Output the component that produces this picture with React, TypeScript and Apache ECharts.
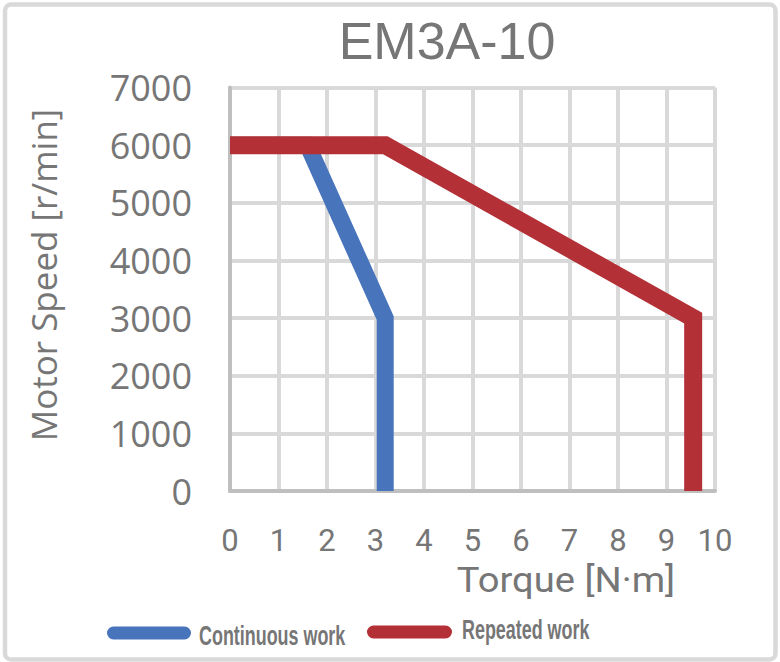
import React, { useEffect, useRef } from "react";
import * as echarts from "echarts";

const chartTitle = "EM3A-10";
const xAxisTitle = "Torque [N·m]";
const yAxisTitle = "Motor Speed [r/min]";
const seriesNames = ["Continuous work", "Repeated work"];
const seriesColors = ["#4874BB", "#B33037"];
const continuousTorque = [0, 1.6, 3.2, 3.2];
const continuousSpeed = [6000, 6000, 3000, 0];
const repeatedTorque = [0, 3.2, 9.55, 9.55];
const repeatedSpeed = [6000, 6000, 3000, 0];
const xMin = 0;
const xMax = 10;
const xStep = 1;
const yMin = 0;
const yMax = 7000;
const yStep = 1000;

const textGray = "#767676";

function pairs(xs: number[], ys: number[]) {
  return xs.map((x, i) => [x, ys[i]]);
}

export default function App() {
  const ref = useRef<HTMLDivElement>(null);
  useEffect(() => {
    if (!ref.current) return;
    const chart = echarts.init(ref.current, null, { renderer: "svg" });
    const labelFont = "'Open Sans', 'Noto Sans', sans-serif";
    const xFont = "Roboto, 'Open Sans', sans-serif";
    chart.setOption({
      animation: false,
      backgroundColor: "transparent",
      grid: { left: 230, right: 65, top: 87.5, bottom: 171, containLabel: false },
      xAxis: {
        type: "value",
        min: xMin,
        max: xMax,
        interval: xStep,
        axisLine: { show: true, onZero: false, lineStyle: { color: "#BFBFBF", width: 4 } },
        axisTick: { show: false },
        axisLabel: {
          color: textGray,
          fontSize: 31,
          lineHeight: 30,
          fontFamily: xFont,
          margin: 34,
          formatter: (v: number) => String(v),
        },
        splitLine: { show: true, lineStyle: { color: "#D9D9D9", width: 4 } },
      },
      yAxis: {
        type: "value",
        min: yMin,
        max: yMax,
        interval: yStep,
        axisLine: { show: true, onZero: false, lineStyle: { color: "#BFBFBF", width: 4 } },
        axisTick: { show: false },
        axisLabel: {
          color: textGray,
          fontSize: 36,
          fontFamily: labelFont,
          margin: 38,
          formatter: (v: number) => String(v),
        },
        splitLine: { show: true, lineStyle: { color: "#D9D9D9", width: 4 } },
      },
      series: [
        {
          name: seriesNames[0],
          type: "line",
          data: pairs(continuousTorque, continuousSpeed),
          showSymbol: false,
          symbol: "none",
          lineStyle: { color: seriesColors[0], width: 17, join: "miter", cap: "butt" },
          itemStyle: { color: seriesColors[0] },
          z: 3,
        },
        {
          name: seriesNames[1],
          type: "line",
          data: pairs(repeatedTorque, repeatedSpeed),
          showSymbol: false,
          symbol: "none",
          lineStyle: { color: seriesColors[1], width: 18, join: "miter", cap: "butt" },
          itemStyle: { color: seriesColors[1] },
          z: 4,
        },
      ],
      graphic: [
        {
          type: "rect",
          z: -10,
          silent: true,
          shape: { x: 5, y: 4.5, width: 770.5, height: 655, r: 6 },
          style: { fill: "#FFFFFF", stroke: "#D9D9D9", lineWidth: 4.5 },
        },
        {
          type: "text",
          x: 447,
          y: 41,
          style: {
            text: chartTitle,
            fill: textGray,
            font: "52px 'Liberation Sans', Arial, sans-serif",
            textAlign: "center",
            textVerticalAlign: "middle",
          },
        },
        {
          type: "text",
          x: 43,
          y: 275,
          rotation: Math.PI / 2,
          style: {
            text: yAxisTitle,
            fill: textGray,
            font: "35px 'Open Sans', 'Noto Sans', sans-serif",
            textAlign: "center",
            textVerticalAlign: "middle",
          },
        },
        {
          type: "text",
          x: 566,
          y: 580,
          scaleX: 1.09,
          style: {
            text: xAxisTitle,
            fill: textGray,
            font: "35px Roboto, 'Open Sans', sans-serif",
            lineHeight: 32,
            textAlign: "center",
            textVerticalAlign: "middle",
          },
        },
        {
          type: "rect",
          shape: { x: 107, y: 626.5, width: 84, height: 13, r: 6.5 },
          style: { fill: seriesColors[0] },
        },
        {
          type: "text",
          x: 199,
          y: 635,
          scaleX: 0.64,
          style: {
            text: seriesNames[0],
            fill: textGray,
            font: "bold 28px 'Liberation Sans', Arial, sans-serif",
            textAlign: "left",
            textVerticalAlign: "middle",
          },
        },
        {
          type: "rect",
          shape: { x: 367, y: 625.5, width: 85, height: 13, r: 6.5 },
          style: { fill: seriesColors[1] },
        },
        {
          type: "text",
          x: 462,
          y: 629,
          scaleX: 0.64,
          style: {
            text: seriesNames[1],
            fill: textGray,
            font: "bold 28px 'Liberation Sans', Arial, sans-serif",
            textAlign: "left",
            textVerticalAlign: "middle",
          },
        },
      ],
    });
    return () => chart.dispose();
  }, []);
  return (
    <div
      ref={ref}
      style={{ position: "fixed", left: 0, top: 0, width: 780, height: 662, background: "#FFFFFF" }}
    />
  );
}
